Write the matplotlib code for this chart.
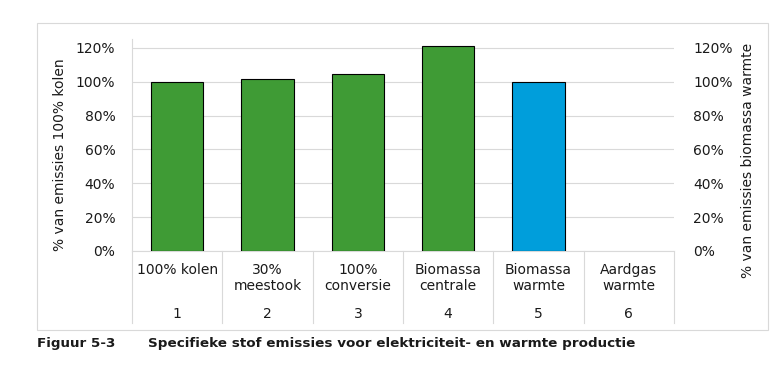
import numpy as np
import matplotlib.pyplot as plt
from matplotlib.patches import Rectangle
import matplotlib.transforms as mtransforms

labels = ['100% kolen', '30%\nmeestook', '100%\nconversie', 'Biomassa\ncentrale', 'Biomassa\nwarmte', 'Aardgas\nwarmte']
numbers = ['1', '2', '3', '4', '5', '6']
kolen = [1.00, 1.015, 1.045, 1.21, np.nan, np.nan]
biomassa_warmte = [np.nan, np.nan, np.nan, np.nan, 1.00, np.nan]
yticks = [0, 0.2, 0.4, 0.6, 0.8, 1.0, 1.2]

green = '#3f9b35'
blue = '#009edb'
grid = '#d9d9d9'

fig = plt.figure(figsize=(7.84, 3.76), dpi=100)
ax = fig.add_axes([132 / 784, 1 - 251 / 376, (674 - 132) / 784, (251 - 39) / 376])
ax2 = ax.twinx()

x = np.arange(len(labels))
ax.bar(x, kolen, width=0.58, color=green, edgecolor='black', linewidth=0.8, zorder=3)
ax2.bar(x, biomassa_warmte, width=0.58, color=blue, edgecolor='black', linewidth=0.8, zorder=3)

for a in (ax, ax2):
    a.set_ylim(0, 1.253)
    a.set_yticks(yticks)
    a.set_yticklabels([f'{int(round(t * 100))}%' for t in yticks], fontsize=10, color='#1a1a1a')
    a.tick_params(axis='y', length=0, pad=12)
    a.set_xlim(-0.5, len(labels) - 0.5)
    for s in a.spines.values():
        s.set_visible(False)
ax.spines['left'].set_visible(True)
ax.spines['left'].set_color(grid)
ax.spines['bottom'].set_visible(True)
ax.spines['bottom'].set_color(grid)
ax.yaxis.grid(True, color=grid, linewidth=0.8, zorder=0)
ax.set_axisbelow(True)
ax.set_xticks([])
ax2.tick_params(axis='y', pad=14)
for lbl in ax2.get_yticklabels():
    lbl.set_horizontalalignment('left')

ax.set_ylabel('% van emissies 100% kolen', fontsize=10, color='#1a1a1a')
ax2.set_ylabel('% van emissies biomassa warmte', fontsize=10, color='#1a1a1a')
ax.yaxis.set_label_coords(-0.12, 0.453)
ax2.yaxis.set_label_coords(1.124, 0.425)

# category table below the axis
trans = mtransforms.blended_transform_factory(ax.transData, ax.transAxes)
h = (251 - 39)
for b in np.arange(len(labels) + 1) - 0.5:
    ax.plot([b, b], [0, -(323 - 251) / h], transform=trans, color=grid, lw=0.8, clip_on=False)
for i, (lab, num) in enumerate(zip(labels, numbers)):
    ax.text(i, -(263 - 251) / h, lab, transform=trans, ha='center', va='top',
            fontsize=10, color='#1a1a1a', linespacing=1.2)
    ax.text(i, -(314 - 251) / h, num, transform=trans, ha='center', va='center',
            fontsize=10, color='#1a1a1a')

# outer frame
fig.patches.append(Rectangle((37 / 784, 1 - 330 / 376), (768 - 37) / 784, (330 - 23) / 376,
                             transform=fig.transFigure, fill=False, edgecolor='#d9d9d9', lw=0.8))

fig.text(37 / 784, 1 - 343 / 376, 'Figuur 5-3', fontsize=9.7, fontweight='bold', va='center', color='#1a1a1a')
fig.text(148 / 784, 1 - 343 / 376, 'Specifieke stof emissies voor elektriciteit- en warmte productie',
         fontsize=9.7, fontweight='bold', va='center', color='#1a1a1a')

fig.savefig('out.png', dpi=100)
